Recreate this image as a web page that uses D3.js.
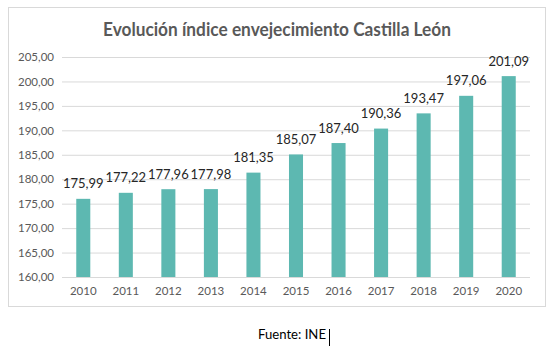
<!DOCTYPE html>
<html><head><meta charset="utf-8">
<script src="https://cdn.jsdelivr.net/npm/d3@7"></script>
<style>body{margin:0;background:#fff;}svg{display:block;}</style>
</head><body>
<script>
const years = ["2010","2011","2012","2013","2014","2015","2016","2017","2018","2019","2020"];
const values = [175.99,177.22,177.96,177.98,181.35,185.07,187.40,190.36,193.47,197.06,201.09];
const yTicks = [160,165,170,175,180,185,190,195,200,205];
const title = "Evolución índice envejecimiento Castilla León";
const source = "Fuente: INE";

const W = 556, H = 355;
const svg = d3.select("body").append("svg").attr("width", W).attr("height", H);
const font = "Lato, 'Open Sans', sans-serif";
const fmt = v => v.toFixed(2).replace(".", ",");

svg.append("rect").attr("x", 8.5).attr("y", 7.5).attr("width", 537).attr("height", 299)
  .attr("fill", "#fff").attr("stroke", "#d9d9d9");

const x = d3.scaleBand().domain(years).range([62, 530]).paddingInner(0.67).paddingOuter(0.335);
const y = d3.scaleLinear().domain([160, 205]).range([277, 57]);

const yAxis = d3.axisLeft(y).tickValues(yTicks).tickSize(-(530 - 62)).tickPadding(8).tickFormat(fmt);
const gy = svg.append("g").attr("transform", "translate(62,0)").call(yAxis);
gy.select(".domain").remove();
gy.selectAll(".tick line").attr("stroke", "#d9d9d9").attr("stroke-width", 1);
gy.selectAll(".tick text").attr("fill", "#595959").attr("font-size", 11.5).attr("font-family", font).attr("x", -8);

const xAxis = d3.axisBottom(x).tickSize(0).tickPadding(10);
const gx = svg.append("g").attr("transform", "translate(0,277)").call(xAxis);
gx.select(".domain").remove();
gx.selectAll(".tick text").attr("fill", "#595959").attr("font-size", 11.5).attr("font-family", font);

svg.append("g").selectAll("rect").data(values).join("rect")
  .attr("x", (d, i) => x(years[i]))
  .attr("width", x.bandwidth())
  .attr("y", d => y(d))
  .attr("height", d => y(160) - y(d))
  .attr("fill", "#5db8b1");

svg.append("g").selectAll("text").data(values).join("text")
  .attr("x", (d, i) => x(years[i]) + x.bandwidth() / 2)
  .attr("y", d => y(d) - 10.5)
  .attr("text-anchor", "middle")
  .attr("font-family", font).attr("font-size", 13).attr("fill", "#262626")
  .text(fmt);

svg.append("text").attr("x", 277).attr("y", 36).attr("text-anchor", "middle")
  .attr("font-family", font).attr("font-weight", "bold").attr("font-size", 18)
  .attr("fill", "#595959").attr("textLength", 348).attr("lengthAdjust", "spacingAndGlyphs")
  .text(title);

svg.append("text").attr("x", 258).attr("y", 339)
  .attr("font-family", font).attr("font-size", 13).attr("fill", "#000")
  .attr("textLength", 68).attr("lengthAdjust", "spacingAndGlyphs")
  .text(source);
svg.append("line").attr("x1", 329.5).attr("x2", 329.5).attr("y1", 329).attr("y2", 346)
  .attr("stroke", "#000").attr("stroke-width", 1);
</script>
</body></html>
